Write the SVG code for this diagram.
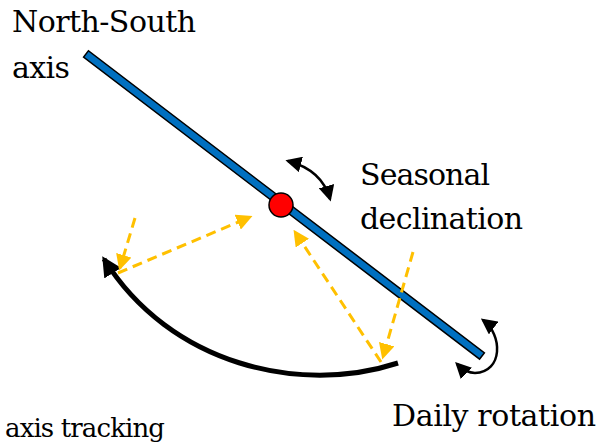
<svg xmlns="http://www.w3.org/2000/svg" width="603" height="442" viewBox="0 0 603 442">
<style>
.yd{fill:none;stroke:#FFC000;stroke-width:3;stroke-dasharray:10,6}
.blk{fill:none;stroke:#000}
.lb{font-family:"DejaVu Serif","Liberation Serif",serif;fill:#000}
</style>
<defs>
<marker id="ya" viewBox="0 0 12 12" refX="10" refY="6" markerWidth="16" markerHeight="16" markerUnits="userSpaceOnUse" orient="auto"><path d="M0,0L12,6L0,12z" fill="#FFC000"/></marker>
<marker id="ba" viewBox="0 0 12 12" refX="10" refY="6" markerWidth="20" markerHeight="20" markerUnits="userSpaceOnUse" orient="auto"><path d="M0,0L12,6L0,12z" fill="#000"/></marker>
<marker id="bs" viewBox="0 0 12 12" refX="10" refY="6" markerWidth="16" markerHeight="16" markerUnits="userSpaceOnUse" orient="auto-start-reverse"><path d="M0,0L12,6L0,12z" fill="#000"/></marker>
</defs>
<g id="axis">
<rect x="0" y="-4" width="498" height="8" transform="translate(86,54) rotate(37.33)" fill="#0070C0" stroke="#000" stroke-width="1.5"/>
</g>
<g id="connectors">
<path class="blk" d="M398,363 C300,395 170,365 104,259" stroke-width="5" marker-end="url(#ba)"/>
<path class="yd" d="M135,218 L120,268" marker-end="url(#ya)"/>
<path class="yd" d="M118,273 L250,217" marker-end="url(#ya)"/>
<path class="yd" d="M381,362 L295,232" marker-end="url(#ya)"/>
<path class="yd" d="M413,252 L383,357" marker-end="url(#ya)"/>
<path class="blk" d="M288,161 Q322,170 330,199" stroke-width="2.5" marker-start="url(#bs)" marker-end="url(#bs)"/>
<path class="blk" d="M483,320 C503,335 503,372 475,373 C468,373 462,369 457,364" stroke-width="2.5" marker-start="url(#bs)" marker-end="url(#bs)"/>
</g>
<g id="sun">
<circle cx="281" cy="205" r="12" fill="#FF0000" stroke="#000" stroke-width="1.5"/>
</g>
<g id="labels">
<text class="lb" x="12" y="32" font-size="30" textLength="184">North-South</text>
<text class="lb" x="12" y="78" font-size="30" textLength="58">axis</text>
<text class="lb" x="360" y="185" font-size="30" textLength="130">Seasonal</text>
<text class="lb" x="360" y="229" font-size="30" textLength="163">declination</text>
<text class="lb" x="392" y="426" font-size="30" textLength="204">Daily rotation</text>
<text class="lb" x="5" y="437" font-size="26" textLength="160">axis tracking</text>
</g>
</svg>
